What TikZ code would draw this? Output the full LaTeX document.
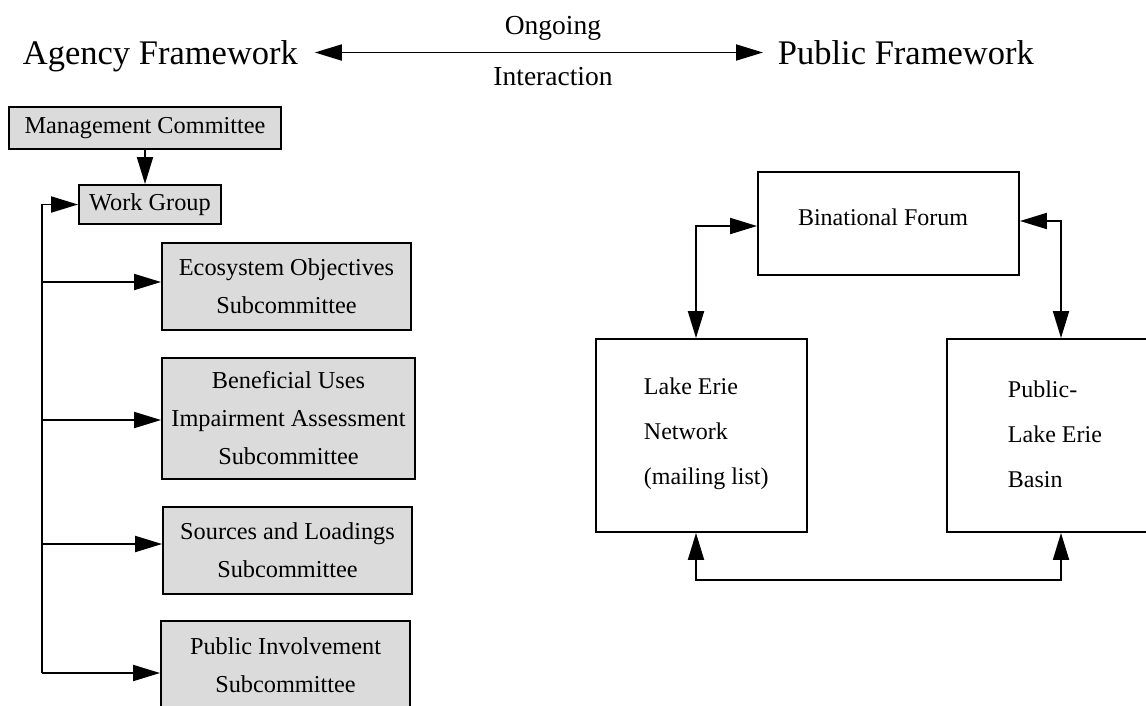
\documentclass[tikz,border=0pt]{standalone}
\usepackage{fontspec}
\setmainfont{Liberation Serif}
\usetikzlibrary{arrows.meta}
\definecolor{boxgray}{gray}{0.86}

\begin{document}
\begin{tikzpicture}[x=1pt,y=-1pt,line width=1.9pt,
  onetip/.style={-{Triangle[length=27pt,width=16pt]}},
  twotip/.style={{Triangle[length=27pt,width=16pt]}-{Triangle[length=27pt,width=16pt]}},
  graybox/.style={draw,fill=boxgray,inner sep=0pt,align=center,
    font=\fontsize{24.3}{38}\selectfont},
  plainbox/.style={draw,fill=white,inner sep=0pt},
  boxtext/.style={inner sep=0pt,align=left,font=\fontsize{24}{45}\selectfont},
  heading/.style={inner sep=0pt,font=\fontsize{34.5}{40}\selectfont,
    text height=23pt,text depth=0pt},
  small/.style={inner sep=0pt,font=\fontsize{24}{28}\selectfont},
  linktext/.style={inner sep=0pt,font=\fontsize{27.5}{30}\selectfont}]

\useasboundingbox (0,0) rectangle (1146,705);

% headings and the two-way link between them
\node[heading,anchor=base west] (agency) at (22,64) {Agency Framework};
\node[heading,anchor=base west] (public) at (777,64) {Public Framework};
\draw[twotip,shorten <=16pt,shorten >=14pt] (agency.east) -- (public.west);
\node[linktext,anchor=base] (ongoing) at (553,34) {Ongoing};
\node[linktext,anchor=base] (interaction) at (553,85) {Interaction};

% agency side
\node[graybox,minimum width=272,minimum height=42] (mgmt) at (145,128) {Management Committee};
\node[graybox,minimum width=142,minimum height=39] (wg) at (150,204.5) {Work Group};
\node[graybox,minimum width=249,minimum height=87] (eco) at (286.5,286.5)
  {Ecosystem Objectives\\Subcommittee};
\node[graybox,minimum width=253,minimum height=121] (ben) at (288.5,418.5)
  {Beneficial Uses\\Impairment Assessment\\Subcommittee};
\node[graybox,minimum width=249,minimum height=87] (src) at (287.5,550.5)
  {Sources and Loadings\\Subcommittee};
\node[graybox,minimum width=249,minimum height=88] (pinv) at (285.5,665)
  {Public Involvement\\Subcommittee};

\draw[onetip] (mgmt.south) -- (mgmt.south |- wg.north);

\coordinate (t1) at (42,282);
\coordinate (t2) at (42,420);
\coordinate (t3) at (42,544);
\coordinate (t4) at (42,673);
\draw[onetip] (t4) |- (wg.west);
\draw[onetip] (t1) -- (t1 -| eco.west);
\draw[onetip] (t2) -- (t2 -| ben.west);
\draw[onetip] (t3) -- (t3 -| src.west);
\draw[onetip] (t4) -- (t4 -| pinv.west);

% public side
\node[plainbox,minimum width=261,minimum height=103] (bf) at (888.5,223.5) {};
\node[small,anchor=base] (bftext) at (883,225) {Binational Forum};
\node[plainbox,minimum width=211,minimum height=193] (net) at (701.5,435.5) {};
\node[boxtext,anchor=west] (nettext) at (643,434) {Lake Erie\\Network\\(mailing list)};
\node[plainbox,minimum width=213,minimum height=193] (pub) at (1053.5,435.5) {};
\node[boxtext,anchor=west] (pubtext) at (1007,434) {Public-\\Lake Erie\\Basin};

\draw[twotip] ([yshift=-2.5pt]bf.west) -| ([xshift=-5.5pt]net.north);
\draw[twotip] ([yshift=2.5pt]bf.east) -| ([xshift=7.5pt]pub.north);
\draw[twotip] ([xshift=-5.5pt]net.south) -- ++(0,47) -| ([xshift=7.5pt]pub.south);
\end{tikzpicture}
\end{document}
